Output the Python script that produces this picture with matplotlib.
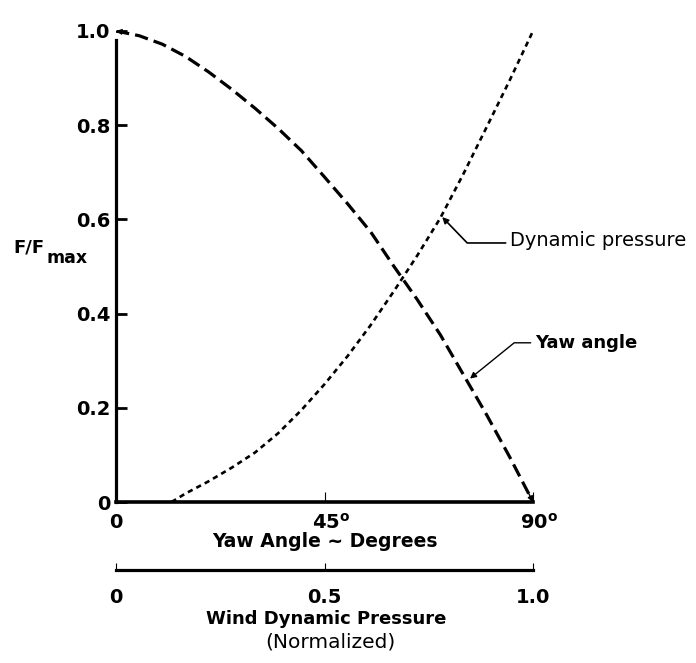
import matplotlib
matplotlib.use("Agg")
import matplotlib.pyplot as plt
from matplotlib.transforms import ScaledTranslation

# ---- data ----
yaw_deg = [0, 5, 10, 15, 20, 25, 30, 35, 40, 45, 50, 55, 60, 65, 70, 75, 80, 85, 90]
yaw_force = [1.0, 0.99, 0.972, 0.946, 0.913, 0.876, 0.836, 0.793, 0.746, 0.69, 0.633,
             0.573, 0.5, 0.43, 0.355, 0.27, 0.185, 0.095, 0.0]

press_deg = [12, 15, 20, 25, 30, 35, 40, 45, 50, 55, 60, 65, 70, 75, 80, 85, 90]
press_force = [0.0, 0.018, 0.044, 0.073, 0.105, 0.146, 0.195, 0.25, 0.31, 0.376, 0.448,
               0.523, 0.603, 0.697, 0.796, 0.896, 1.0]

y_ticks = [0, 0.2, 0.4, 0.6, 0.8, 1.0]
y_tick_labels = ["0", "0.2", "0.4", "0.6", "0.8", "1.0"]
x_ticks = [0, 45, 90]
x_tick_labels = ["0", r"45$^{\mathbf{o}}$", r"90$^{\mathbf{o}}$"]
q_ticks = [0, 0.5, 1.0]
q_tick_labels = ["0", "0.5", "1.0"]

plt.rcParams["font.family"] = ["DejaVu Sans"]
plt.rcParams["mathtext.fontset"] = "dejavusans"

fig = plt.figure(figsize=(6.96, 6.63), dpi=100)
ax = fig.add_axes([116 / 696, 1 - 502 / 663, 417 / 696, 471 / 663])

ax.plot(yaw_deg, yaw_force, color="black", lw=2.3, dashes=(4.2, 1.9),
        dash_capstyle="butt")
ax.plot(press_deg, press_force, color="black", lw=1.9, dashes=(2.0, 1.6),
        dash_capstyle="butt")

# small arrow tips at both ends of the yaw-angle curve
tip = dict(arrowstyle="-|>", color="black", lw=1.0, mutation_scale=8, shrinkA=0, shrinkB=0)
ax.annotate("", xy=(yaw_deg[0], yaw_force[0]), xytext=(7, -1), textcoords="offset points",
            arrowprops=tip, annotation_clip=False)
ax.annotate("", xy=(yaw_deg[-1], yaw_force[-1]), xytext=(-3.5, 7), textcoords="offset points",
            arrowprops=tip, annotation_clip=False)

ax.set_xlim(0, 90)
ax.set_ylim(0, 1.0)
for s in ("top", "right"):
    ax.spines[s].set_visible(False)
ax.spines["left"].set_linewidth(2.3)
ax.spines["bottom"].set_linewidth(2.6)
ax.spines["left"].set_bounds(0, 0.98)

ax.set_yticks(y_ticks)
ax.set_yticklabels(y_tick_labels, fontsize=14, fontweight="bold")
ax.tick_params(axis="y", direction="in", length=8, width=2.0, pad=4)
ax.set_xticks(x_ticks)
ax.set_xticklabels(x_tick_labels, fontsize=14, fontweight="bold")
ax.tick_params(axis="x", direction="in", length=7, width=0.8, pad=8)
# keep the digits centred on the tick, with the degree mark hanging to the right
shift = ScaledTranslation(4.5 / 72, 0, fig.dpi_scale_trans)
for lab in ax.get_xticklabels()[1:]:
    lab.set_transform(lab.get_transform() + shift)

# y label: "F/F" with a large "max" subscript
ax.set_ylabel("F/F", rotation=0, fontsize=13, fontweight="bold", ha="left", va="baseline")
ax.yaxis.set_label_coords(-0.245, 0.529)
ax.text(-0.166, 0.507, "max", transform=ax.transAxes, ha="left", va="baseline",
        fontsize=12.5, fontweight="bold")

ax.text(0.5, -0.063, "Yaw Angle ~ Degrees", transform=ax.transAxes, ha="center",
        va="top", fontsize=13.5, fontweight="bold")

sec = ax.secondary_xaxis(-0.144, functions=(lambda d: d / 90.0, lambda q: q * 90.0))
sec.set_xticks(q_ticks)
sec.set_xticklabels(q_tick_labels, fontsize=14, fontweight="bold")
sec.tick_params(axis="x", direction="in", length=5, width=0.8, pad=13)
sec.spines["bottom"].set_linewidth(2.3)

ax.text(0.505, -0.229, "Wind Dynamic Pressure", transform=ax.transAxes, ha="center",
        va="top", fontsize=13, fontweight="bold")
ax.text(0.515, -0.277, "(Normalized)", transform=ax.transAxes, ha="center",
        va="top", fontsize=14.5)

ax.annotate("Dynamic pressure", xy=(70.4, 0.605), xytext=(85.0, 0.556),
            fontsize=14, ha="left", va="center", annotation_clip=False,
            arrowprops=dict(arrowstyle="-|>", color="black", lw=1.2, mutation_scale=9,
                            shrinkA=1, shrinkB=0, relpos=(0, 0.35),
                            connectionstyle="angle,angleA=0,angleB=134,rad=0"))
ax.annotate("Yaw angle", xy=(76.4, 0.262), xytext=(90.4, 0.338),
            fontsize=13, fontweight="bold", ha="left", va="center", annotation_clip=False,
            arrowprops=dict(arrowstyle="-|>", color="black", lw=1.0, mutation_scale=9,
                            shrinkA=1, shrinkB=0, relpos=(0, 0.5),
                            connectionstyle="angle,angleA=0,angleB=39,rad=0"))

fig.savefig("out.png", dpi=100)
